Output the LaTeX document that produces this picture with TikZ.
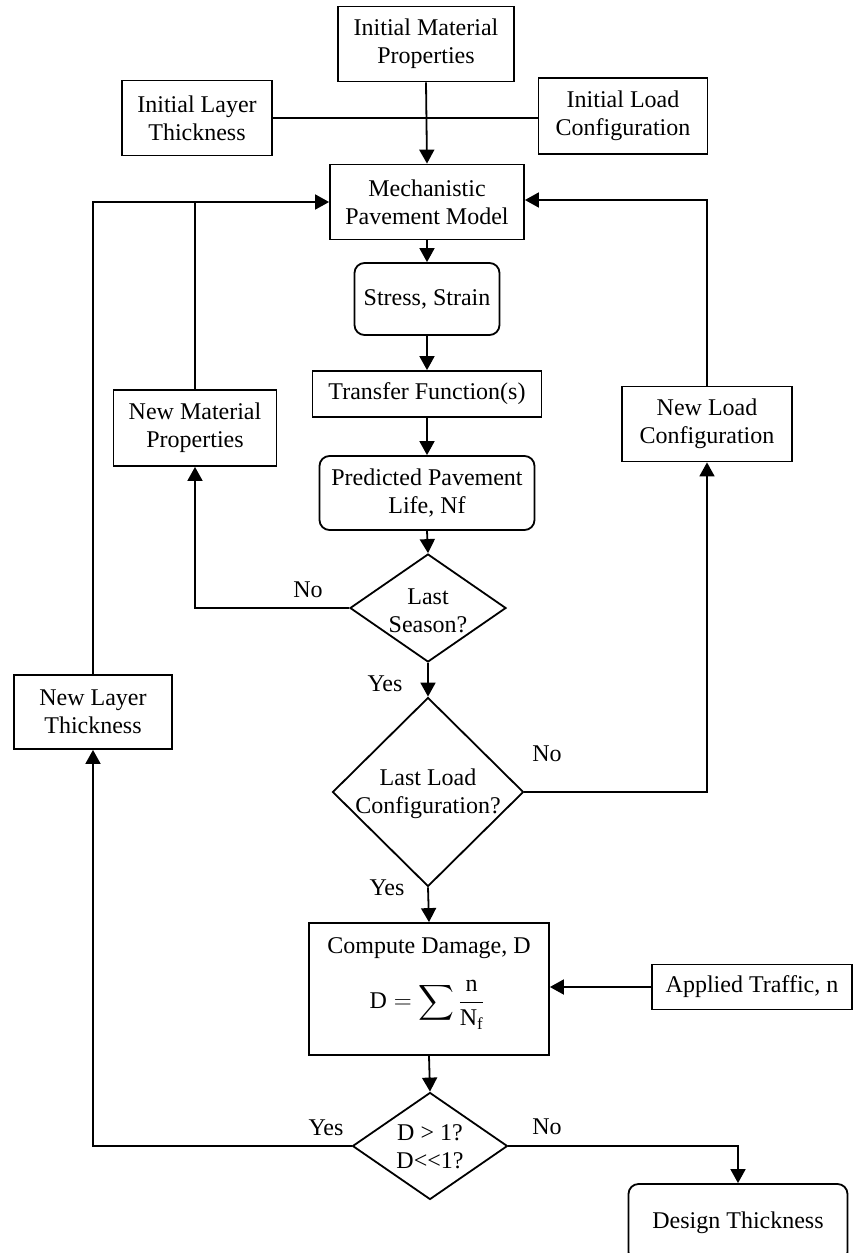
\documentclass[tikz,border=0pt]{standalone}
\usepackage{amsmath}
\usepackage{fontspec}
\setmainfont{Liberation Serif}
\usetikzlibrary{shapes.geometric,arrows.meta}
\begin{document}
\begin{tikzpicture}[x=1pt,y=-1pt,
  every node/.style={font=\fontsize{24}{28}\selectfont, align=center, inner sep=0pt},
  box/.style={draw, line width=1.8pt, rectangle},
  rbox/.style={box, rounded corners=10pt},
  dia/.style={draw, line width=1.8pt, diamond},
  conn/.style={line width=1.8pt},
  arr/.style={conn, -{Triangle[length=14pt,width=15pt]}}
]
\useasboundingbox (0,0) rectangle (854,1253);
% boxes
\node[box, minimum width=176pt, minimum height=75pt] (imp) at (426,44) {Initial Material\\Properties};
\node[box, minimum width=150pt, minimum height=75pt] (ilt) at (197,118) {Initial Layer\\Thickness};
\node[box, minimum width=169pt, minimum height=76pt] (ilc) at (623,116) {Initial Load\\Configuration};
\node[box, minimum width=194pt, minimum height=75pt] (mpm) at (427,202) {Mechanistic\\Pavement Model};
\node[rbox, minimum width=145pt, minimum height=72pt] (ss) at (427,299) {Stress, Strain};
\node[box, minimum width=229pt, minimum height=46pt] (tf) at (427,394) {Transfer Function(s)};
\node[rbox, minimum width=215pt, minimum height=74pt] (ppl) at (427,493) {Predicted Pavement\\Life, Nf};
\node[box, minimum width=163pt, minimum height=76pt] (nmp) at (195,428) {New Material\\Properties};
\node[box, minimum width=170pt, minimum height=75pt] (nlc) at (707,424) {New Load\\Configuration};
\node[dia, minimum width=156pt, minimum height=108pt] (ls) at (428,608) {};
\node (lst) at (428,611) {Last\\Season?};
\node[box, minimum width=158pt, minimum height=74pt] (nlt) at (93,712) {New Layer\\Thickness};
\node[dia, minimum width=191pt, minimum height=189pt] (llc) at (428,792) {};
\node (llct) at (428,794) {Last Load\\Configuration?};
\node[box, minimum width=240pt, minimum height=132pt] (cd) at (429,989) {};
\node (cdt) at (429,948) {Compute Damage, D};
\node (cdf) at (427,1005) {$\displaystyle\text{D} = \sum\frac{\text{n}}{\text{N}_{\text{f}}}$};
\node[box, minimum width=200pt, minimum height=45pt] (at) at (752,987) {Applied Traffic, n};
\node[dia, minimum width=155pt, minimum height=107pt] (dd) at (430,1146) {};
\node (ddt) at (430,1147) {D {\char"003E} 1?\\D{\char"003C}{\char"003C}1?};
\node[rbox, minimum width=219pt, minimum height=78pt] (dt) at (738,1223) {Design Thickness};
% labels
\node (no1) at (308,590) {No};
\node (yes1) at (385,684) {Yes};
\node (no2) at (547,754) {No};
\node (yes2) at (387,888) {Yes};
\node (yes3) at (326,1128) {Yes};
\node (no3) at (547,1127) {No};
% connectors
\draw[arr] (imp.south) -- (mpm.north);
\draw[conn] (ilt.east) -- (ilt.east -| ilc.west);
\draw[arr] (mpm) -- (ss);
\draw[arr] (ss) -- (tf);
\draw[arr] (tf) -- (ppl);
\draw[arr] (ppl.south) -- (ls.north);
\draw[arr] (ls.south) -- (llc.north);
\draw[arr] (llc.south) -- (cd.north);
\draw[arr] (cd.south) -- (dd.north);
\draw[arr] (ls.west) -| (nmp.south);
\draw[conn] (nmp.north) -- (nmp.north |- mpm.west);
\draw[arr] (nlt.north) |- (mpm.west);
\draw[arr] (nlc.north) |- ([yshift=2pt]mpm.east);
\draw[arr] (llc.east) -| (nlc.south);
\draw[arr] (at.west) -- (at.west -| cd.east);
\draw[arr] (dd.west) -| (nlt.south);
\draw[arr] (dd.east) -| (dt.north);
\end{tikzpicture}
\end{document}
